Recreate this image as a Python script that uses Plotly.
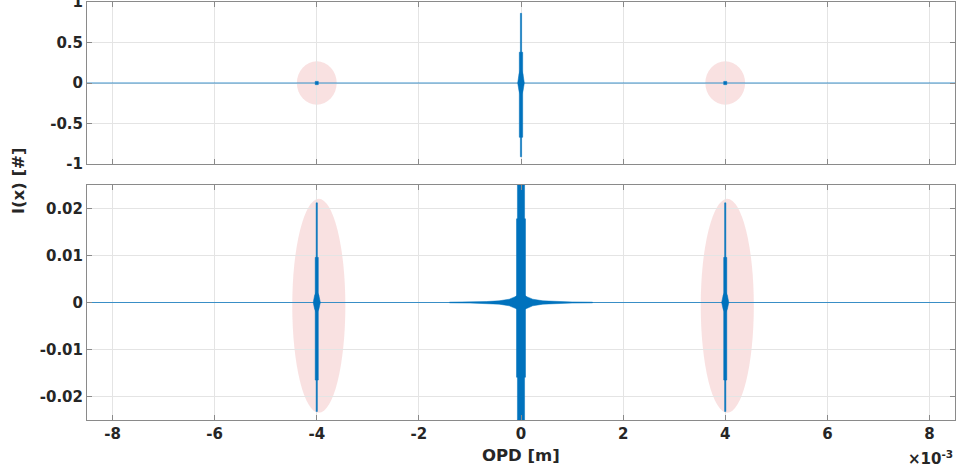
import plotly.graph_objects as go

# ---------------- data ----------------
opd_tick_vals = [-8, -6, -4, -2, 0, 2, 4, 6, 8]          # ×1e-3 m
opd_range = [-8.5, 8.5]                                  # ×1e-3 m
top_y_ticks = [-1, -0.5, 0, 0.5, 1]
top_y_labels = ["-1", "-0.5", "0", "0.5", "1"]
bot_y_ticks = [-0.02, -0.01, 0, 0.01, 0.02]
bot_y_labels = ["-0.02", "-0.01", "0", "0.01", "0.02"]

central_opd = 0.0          # m
side_opds = [-4e-3, 4e-3]  # m (ghost fringes)

# central burst, top panel: upper / lower extent and half width (m) of nested bands
top_center_hi = [0.86, 0.38, 0.18]
top_center_lo = [-0.91, -0.67, -0.16]
top_center_hw = [0.012e-3, 0.033e-3, 0.065e-3]

# side bursts, top panel (barely visible)
top_side_hi = [0.02]
top_side_lo = [-0.02]
top_side_hw = [0.03e-3]

# central burst, bottom panel (runs past the axis limits)
bot_center_hi = [0.025, 0.0178, 0.0021]
bot_center_lo = [-0.025, -0.0159, -0.0019]
bot_center_hw = [0.07e-3, 0.088e-3, 0.17e-3]

# central skirt around zero, bottom panel: OPD offset (m) vs amplitude
skirt_offset = [0.0, 0.1e-3, 0.23e-3, 0.43e-3, 0.68e-3, 1.0e-3, 1.4e-3]
skirt_amp = [0.0018, 0.0013, 0.0007, 0.00035, 0.0002, 0.00012, 0.00007]

# side bursts, bottom panel
bot_side_hi = [0.0212, 0.0096, 0.0025]
bot_side_lo = [-0.0232, -0.0165, -0.0023]
bot_side_hw = [0.012e-3, 0.03e-3, 0.07e-3]

# highlight ellipses: centre x (m), centre y, half axes
top_ell_cx = [-4.0e-3, 4.0e-3]
top_ell_cy = [0.0, 0.0]
top_ell_rx = 0.39e-3
top_ell_ry = 0.268
bot_ell_cx = [-3.96e-3, 4.04e-3]
bot_ell_cy = [-0.0007, -0.0007]
bot_ell_rx = 0.52e-3
bot_ell_ry = 0.02275

# ---------------- styling ----------------
BLUE = "#0072BD"
AX = "#8a8a8a"
GRID = "#e4e4e4"
TXT = "#262626"
FONT = "DejaVu Sans"

fig = go.Figure()


def band_traces(xc, his, los, hws, xa, ya):
    for i, (hi, lo, hw) in enumerate(zip(his, los, hws)):
        if i == len(his) - 1 and len(his) > 1:
            # spindle-shaped core
            xs = [xc, xc + 0.6 * hw, xc + hw, xc + 0.6 * hw, xc, xc - 0.6 * hw, xc - hw, xc - 0.6 * hw, xc]
            ys = [hi, 0.6 * hi, 0, 0.6 * lo, lo, 0.6 * lo, 0, 0.6 * hi, hi]
        else:
            xs = [xc - hw, xc + hw, xc + hw, xc - hw, xc - hw]
            ys = [hi, hi, lo, lo, hi]
        fig.add_trace(go.Scatter(x=xs, y=ys, mode="lines", fill="toself",
                                 fillcolor=BLUE, line=dict(color=BLUE, width=0.5),
                                 xaxis=xa, yaxis=ya, hoverinfo="skip", showlegend=False))


# baselines
for xa, ya in (("x", "y"), ("x2", "y2")):
    fig.add_trace(go.Scatter(x=[opd_range[0] * 1e-3, opd_range[1] * 1e-3], y=[0, 0], mode="lines",
                             line=dict(color=BLUE, width=1.2), opacity=0.75, xaxis=xa, yaxis=ya,
                             hoverinfo="skip", showlegend=False))

# top panel
band_traces(central_opd, top_center_hi, top_center_lo, top_center_hw, "x", "y")
for s in side_opds:
    band_traces(s, top_side_hi, top_side_lo, top_side_hw, "x", "y")

# bottom panel skirt
sx = [central_opd - o for o in reversed(skirt_offset)] + [central_opd + o for o in skirt_offset[1:]]
sa = list(reversed(skirt_amp)) + skirt_amp[1:]
fig.add_trace(go.Scatter(x=sx + sx[::-1], y=sa + [-a for a in sa[::-1]], mode="lines", fill="toself",
                         fillcolor=BLUE, line=dict(color=BLUE, width=0.5), xaxis="x2", yaxis="y2",
                         hoverinfo="skip", showlegend=False))
band_traces(central_opd, bot_center_hi, bot_center_lo, bot_center_hw, "x2", "y2")
for s in side_opds:
    band_traces(s, bot_side_hi, bot_side_lo, bot_side_hw, "x2", "y2")

# ellipses
shapes = []
for cx, cy in zip(top_ell_cx, top_ell_cy):
    shapes.append(dict(type="circle", xref="x", yref="y", x0=cx - top_ell_rx, x1=cx + top_ell_rx,
                       y0=cy - top_ell_ry, y1=cy + top_ell_ry, fillcolor="rgba(220,80,80,0.17)",
                       line=dict(width=0), layer="below"))
for cx, cy in zip(bot_ell_cx, bot_ell_cy):
    shapes.append(dict(type="circle", xref="x2", yref="y2", x0=cx - bot_ell_rx, x1=cx + bot_ell_rx,
                       y0=cy - bot_ell_ry, y1=cy + bot_ell_ry, fillcolor="rgba(220,80,80,0.17)",
                       line=dict(width=0), layer="below"))

tickfont = dict(family=FONT, size=15, color=TXT, weight="bold")
common_axis = dict(showline=True, linecolor=AX, linewidth=1, mirror="allticks", ticks="inside",
                   ticklen=5, tickcolor=AX, showgrid=True, gridcolor=GRID, gridwidth=1,
                   zeroline=False, tickfont=tickfont, ticklabeloverflow="allow", automargin=False)

xt = [v * 1e-3 for v in opd_tick_vals]
xr = [v * 1e-3 for v in opd_range]

fig.update_layout(
    width=960, height=474,
    margin=dict(l=87, r=5, t=2, b=54),
    paper_bgcolor="white", plot_bgcolor="white",
    shapes=shapes,
    xaxis=dict(domain=[0, 1], anchor="y", range=xr, tickvals=xt, showticklabels=False, **common_axis),
    xaxis2=dict(domain=[0, 1], anchor="y2", range=xr, tickvals=xt,
                ticktext=[str(v) for v in opd_tick_vals], **common_axis),
    yaxis=dict(domain=[0.6124, 1.0], anchor="x", range=[-1, 1], tickvals=top_y_ticks,
               ticktext=top_y_labels, **common_axis),
    yaxis2=dict(domain=[0, 0.5622], anchor="x2", range=[-0.025, 0.025], tickvals=bot_y_ticks,
                ticktext=bot_y_labels, **common_axis),
    annotations=[
        dict(text="OPD [m]", xref="paper", yref="paper", x=0.5, y=-0.085, xanchor="center",
             yanchor="middle", showarrow=False,
             font=dict(family=FONT, size=16.5, color=TXT, weight="bold")),
        dict(text="I(x) [#]", xref="paper", yref="paper", x=-0.0795, y=0.574, textangle=-90,
             xanchor="center", yanchor="middle", showarrow=False,
             font=dict(family=FONT, size=16.5, color=TXT, weight="bold")),
        dict(text="×10<sup>-3</sup>", xref="paper", yref="paper", x=1.0, y=-0.09, xanchor="right",
             yanchor="middle", showarrow=False,
             font=dict(family=FONT, size=15, color=TXT, weight="bold")),
    ],
)

fig.write_html("out.html")
